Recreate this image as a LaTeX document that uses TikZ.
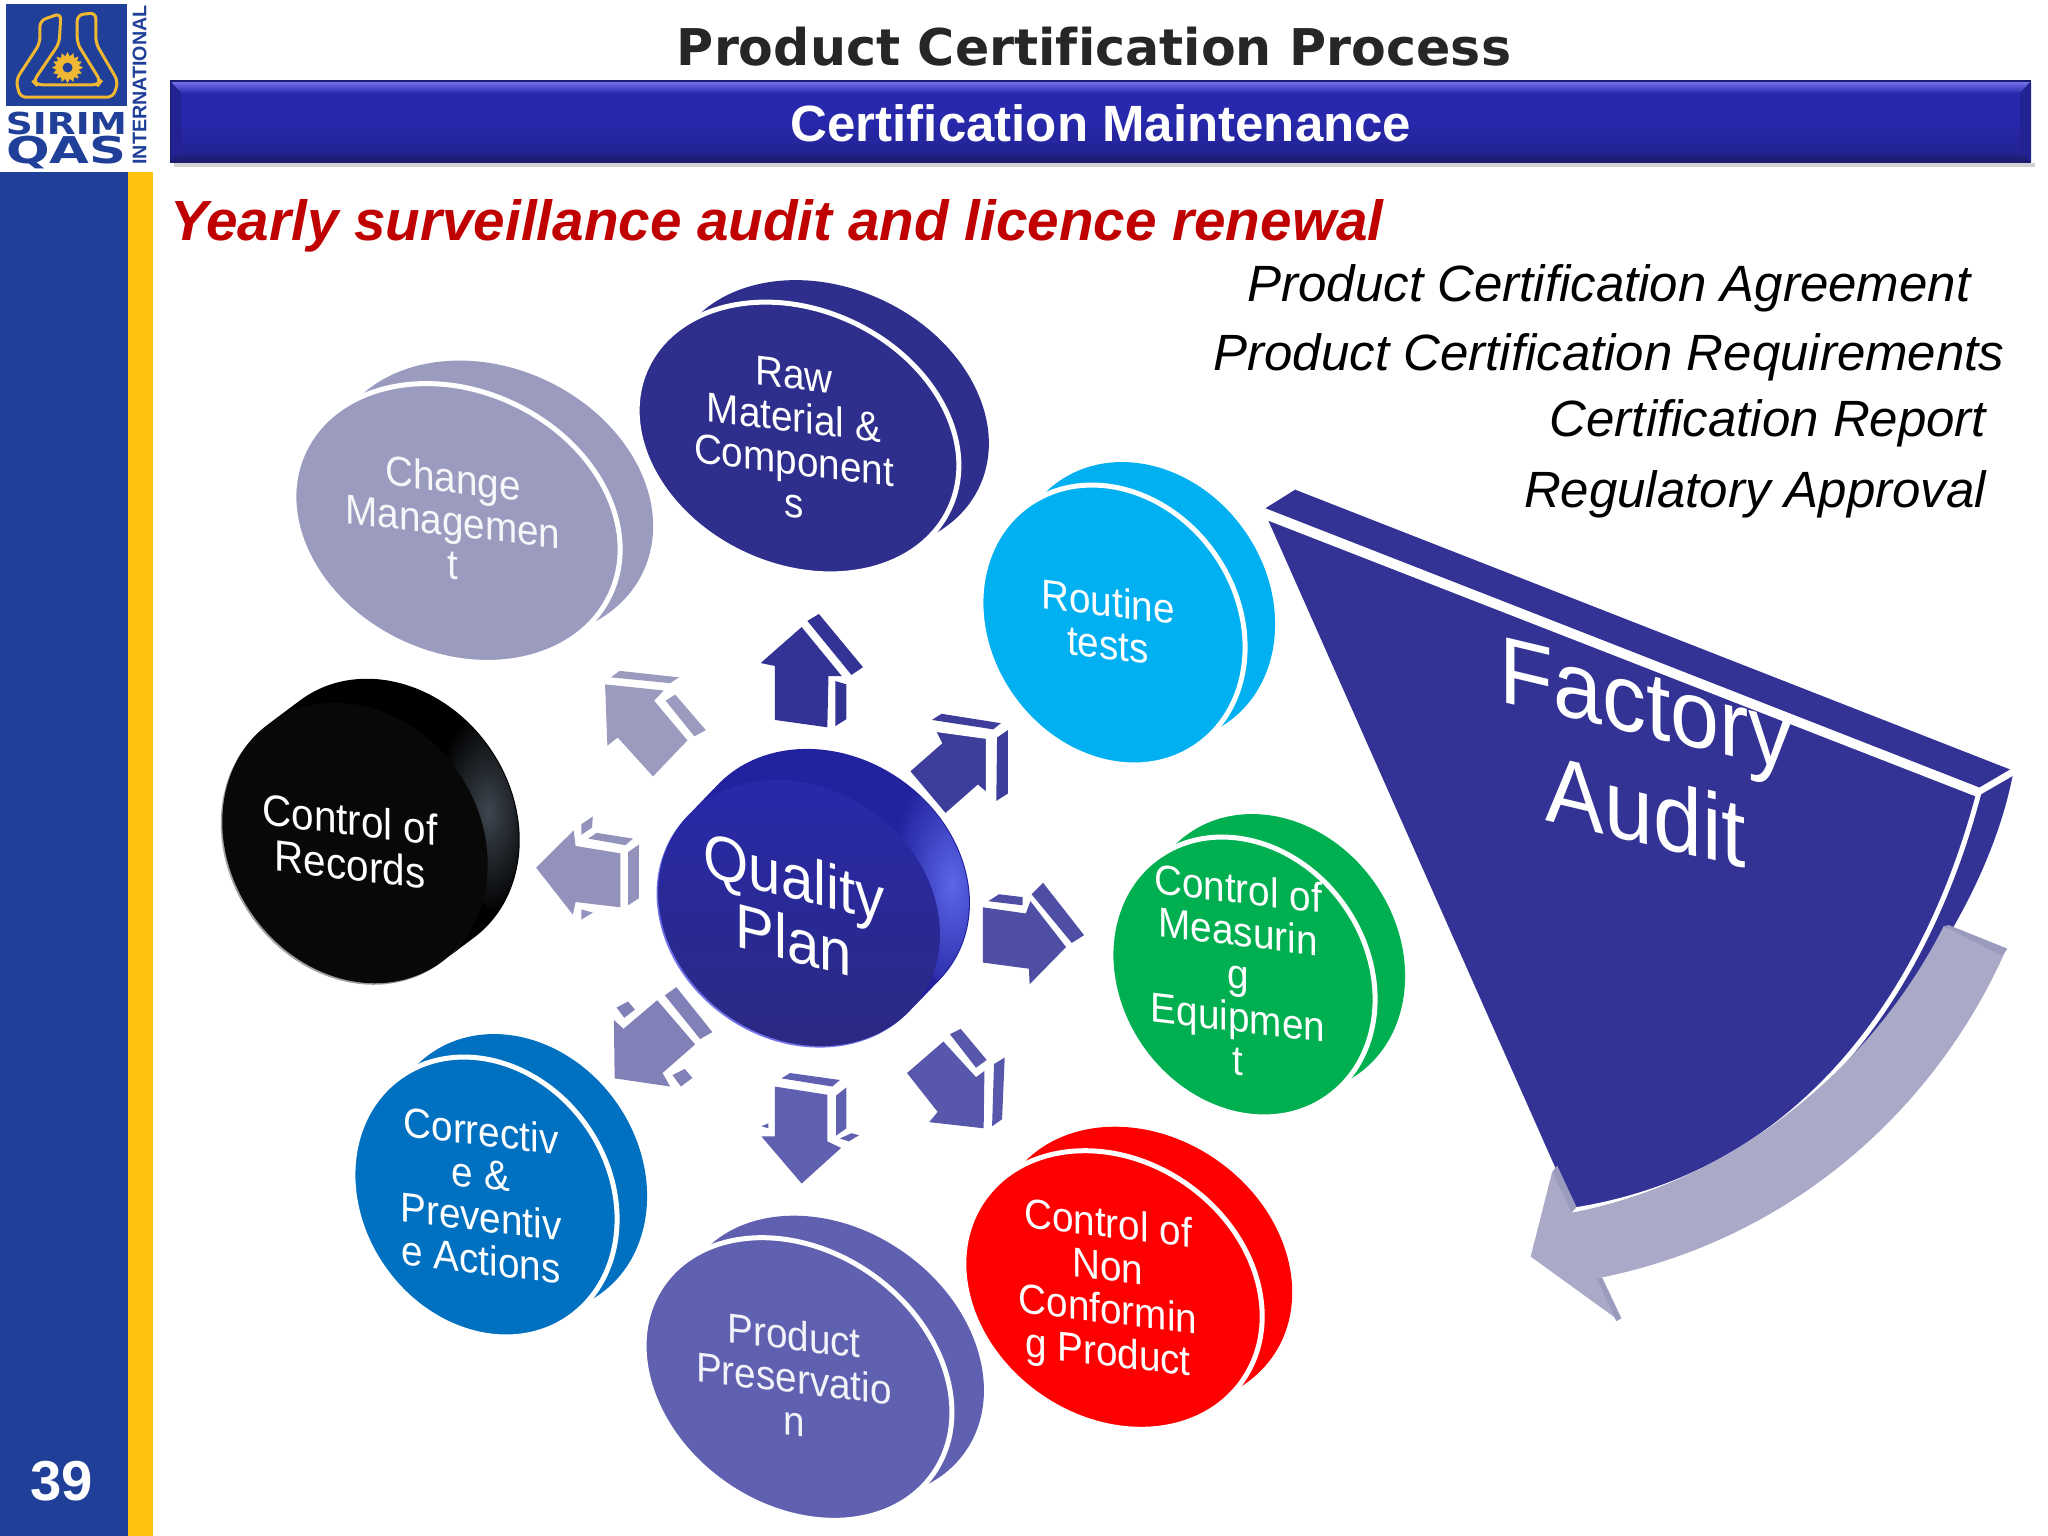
\documentclass[tikz,border=0pt]{standalone}
\usepackage{fontspec}
\setmainfont[Ligatures=NoCommon]{Liberation Sans}
\newfontfamily\titlefont[Ligatures=NoCommon]{DejaVu Sans}
\usetikzlibrary{
  positioning,
  calc,
  shapes.geometric
}
\definecolor{SidebarBlue}{RGB}{31,63,152}
\definecolor{SidebarYellow}{RGB}{255,194,14}
\definecolor{LogoYellow}{RGB}{240,184,50}
\definecolor{BarBlue}{RGB}{40,40,172}
\definecolor{BarEdge}{RGB}{28,28,110}
\definecolor{BarLight}{RGB}{112,112,232}
\definecolor{HeadRed}{RGB}{192,0,0}
\definecolor{ChangeGray}{RGB}{155,155,191}
\definecolor{RawNavy}{RGB}{46,46,140}
\definecolor{RoutineCyan}{RGB}{0,176,240}
\definecolor{MeasureGreen}{RGB}{0,176,80}
\definecolor{ConformRed}{RGB}{255,0,0}
\definecolor{PreserveBlue}{RGB}{96,96,176}
\definecolor{CorrectBlue}{RGB}{0,112,192}
\definecolor{WedgeBlue}{RGB}{51,51,150}
\definecolor{ReturnGray}{RGB}{170,170,200}
\definecolor{ReturnEdge}{RGB}{155,155,190}
\definecolor{QualityBlue}{RGB}{34,34,158}
\definecolor{QualityGlow}{RGB}{92,102,232}
\definecolor{RecordsGlow}{RGB}{62,70,80}
\tikzset{
  discback/.style={ellipse,inner sep=0pt,outer sep=0pt},
  discface/.style={discback,draw=white,line width=0.05cm},
  disctext/.style={align=center,text=white,yslant=-0.12,yscale=1.08,
    font=\fontsize{11}{11.3}\selectfont},
  listtext/.style={font=\fontsize{14.5}{16}\selectfont\itshape,text=black},
  logotext/.style={text=SidebarBlue,inner sep=0pt}
}
\begin{document}
\begin{tikzpicture}[x=0.01cm,y=-0.01cm]
  \useasboundingbox (0,0) rectangle (2048,1536);

  % Sidebar and logo.
  \fill[SidebarBlue] (0,172) rectangle (128,1536);
  \fill[SidebarYellow] (128,172) rectangle (153,1536);
  \node[text=white,font=\fontsize{16}{18}\bfseries\selectfont] (pagenum) at (62,1481) {39};
  \fill[SidebarBlue] (6,4) rectangle (127,106);
  \begin{scope}[x=0.003333cm,y=-0.003333cm]
    \draw[LogoYellow,line width=0.03cm,rounded corners=0.06cm]
      (120,130) -- (120,62) -- (183,40) -- (178,130) -- (100,245) -- (110,255) -- (295,255) -- (303,245)
      -- (232,130) -- (232,45) -- (288,38) -- (288,130) -- (355,245) -- (340,292) -- (60,292) -- (48,240) -- cycle;
    \node[star,star points=16,star point ratio=1.35,minimum size=0.31cm,inner sep=0pt,fill=LogoYellow] (gear) at (203,203) {};
    \node[circle,minimum size=0.10cm,inner sep=0pt,fill=SidebarBlue] (hub) at (203,203) {};
  \end{scope}
  \node[logotext,xscale=1.24,font=\fontsize{8.6}{10}\titlefont\bfseries\selectfont] (sirim) at (66.5,123) {SIRIM};
  \node[logotext,xscale=1.39,font=\fontsize{10.5}{12}\titlefont\bfseries\selectfont] (qas) at (66.5,152) {QAS};
  \node[logotext,rotate=90,font=\fontsize{5.6}{7}\bfseries\selectfont] (intl) at (139.5,85) {INTERNATIONAL};

  % Header.
  \node[font=\fontsize{14.4}{17}\titlefont\bfseries\selectfont,text=black!85] (title) at (1094,47) {Product Certification Process};
  \fill[gray!35] (174,163) rectangle (2035,167);
  \fill[BarEdge] (170,80) rectangle (2031,163);
  \fill[BarBlue!85!black] (2031,82) -- (2031,162) -- (2020,154) -- (2020,92) -- cycle;
  \shade[top color=BarLight,bottom color=BarBlue] (171,82) -- (2030,82) -- (2020,93) -- (181,93) -- cycle;
  \fill[BarBlue] (181,93) rectangle (2020,120);
  \shade[top color=BarBlue,bottom color=BarBlue!88!black] (181,120) rectangle (2020,150);
  \shade[top color=BarBlue!88!black,bottom color=BarEdge] (181,150) -- (2020,150) -- (2030,161) -- (171,161) -- cycle;
  \fill[BarBlue!85!black] (171,82) -- (181,93) -- (181,150) -- (171,161) -- cycle;
  \node[font=\fontsize{14.5}{17}\bfseries\selectfont,text=white] (subtitle) at (1101,123) {Certification Maintenance};
  \node[anchor=west,inner sep=0pt,font=\fontsize{16.1}{19}\bfseries\itshape\selectfont,text=HeadRed] (heading) at (170,226) {Yearly surveillance audit and licence renewal};

  \node[listtext] (agreement) at (1609,288) {Product Certification Agreement};
  \node[listtext] (requirements) at (1609,357) {Product Certification Requirements};
  \node[listtext] (report) at (1768,423) {Certification Report};
  \node[listtext] (approval) at (1755,494) {Regulatory Approval};

  % Outer discs: back slab, face, then the label.
  \node[discback,fill=ChangeGray,minimum width=3.38cm,minimum height=2.64cm,rotate=-25] (changeback) at (490,500) {};
  \node[discface,fill=ChangeGray,minimum width=3.38cm,minimum height=2.64cm,rotate=-25] (changeface) at (457,523) {};
  \node[disctext,text=white!92!ChangeGray] (changetext) at (453,521) {Change\\Managemen\\t};

  \node[discback,fill=RawNavy,minimum width=3.34cm,minimum height=2.56cm,rotate=-25] (rawback) at (828,416) {};
  \node[discface,fill=RawNavy,minimum width=3.34cm,minimum height=2.56cm,rotate=-25] (rawface) at (798,438) {};
  \node[disctext] (rawtext) at (794,439) {Raw\\Material \&\\Component\\s};

  \node[discback,fill=RoutineCyan,minimum width=2.94cm,minimum height=2.48cm,rotate=-55] (routineback) at (1143,602) {};
  \node[discface,fill=RoutineCyan,minimum width=2.94cm,minimum height=2.48cm,rotate=-55] (routineface) at (1113,625) {};
  \node[disctext] (routinetext) at (1108,623) {Routine\\tests};

  \node[discback,fill=MeasureGreen,minimum width=2.94cm,minimum height=2.48cm,rotate=-55] (measureback) at (1273,954) {};
  \node[discface,fill=MeasureGreen,minimum width=2.94cm,minimum height=2.48cm,rotate=-55] (measureface) at (1243,977) {};
  \node[disctext] (measuretext) at (1238,974) {Control of\\Measurin\\g\\Equipmen\\t};

  \node[discback,fill=ConformRed,minimum width=3.16cm,minimum height=2.58cm,rotate=-35] (conformback) at (1143,1266) {};
  \node[discface,fill=ConformRed,minimum width=3.16cm,minimum height=2.58cm,rotate=-35] (conformface) at (1113,1290) {};
  \node[disctext] (conformtext) at (1108,1291) {Control of\\Non\\Conformin\\g Product};

  \node[discback,fill=PreserveBlue,minimum width=3.30cm,minimum height=2.56cm,rotate=-35] (preserveback) at (830,1357) {};
  \node[discface,fill=PreserveBlue,minimum width=3.30cm,minimum height=2.56cm,rotate=-35] (preserveface) at (798,1379) {};
  \node[disctext,text=white!92!PreserveBlue] (preservetext) at (794,1378) {Product\\Preservatio\\n};

  \node[discback,fill=CorrectBlue,minimum width=2.94cm,minimum height=2.48cm,rotate=-55] (correctback) at (515,1174) {};
  \node[discface,fill=CorrectBlue,minimum width=2.94cm,minimum height=2.48cm,rotate=-55] (correctface) at (485,1197) {};
  \node[disctext] (correcttext) at (481,1195) {Correctiv\\e \&\\Preventiv\\e Actions};

  % Black disc: slab built up from the back towards the face.
  \coordinate (recordsfar) at (387,819);
  \coordinate (recordsnear) at (355,843);
  \foreach \t in {0,0.25,0.5,0.75}{
    \node[discback,fill=black,minimum width=2.94cm,minimum height=2.50cm,rotate=-55] at ($(recordsnear)!1-\t!(recordsfar)$) {};
  }
  \begin{scope}
    \clip[rotate around={-55:(recordsfar)}] (recordsfar) ellipse [x radius=146,y radius=124];
    \node[discback,inner color=RecordsGlow,outer color=black,minimum width=0.9cm,minimum height=2.0cm,rotate=10] (recordsglow) at (488,812) {};
  \end{scope}
  \node[discback,fill=gray!75,minimum width=2.94cm,minimum height=2.50cm,rotate=-55] (recordsrim) at ($(recordsnear)+(-1.5,1.5)$) {};
  \node[discback,fill=black!97!white,minimum width=2.94cm,minimum height=2.50cm,rotate=-55] (recordsface) at (recordsnear) {};
  \node[disctext,font=\fontsize{11.5}{11.8}\selectfont] (recordstext) at (350,842) {Control of\\Records};

  % Centre disc.
  \coordinate (qualityfar) at (829,882);
  \coordinate (qualitynear) at (799,913);
  \foreach \t in {0,0.25,0.5,0.75}{
    \node[discback,fill=QualityBlue,minimum width=2.96cm,minimum height=2.50cm,rotate=-35] at ($(qualitynear)!1-\t!(qualityfar)$) {};
  }
  \begin{scope}
    \clip[rotate around={-35:(qualityfar)}] (qualityfar) ellipse [x radius=147,y radius=124];
    \node[discback,inner color=QualityGlow,outer color=QualityBlue,minimum width=1.0cm,minimum height=2.4cm,rotate=10] (qualityglow) at (952,884) {};
  \end{scope}
  \node[discback,fill=BarLight,minimum width=2.96cm,minimum height=2.50cm,rotate=-35] (qualityrim) at ($(qualitynear)+(-1.5,1.5)$) {};
  \node[discback,top color=BarBlue,bottom color=RawNavy!92!black,minimum width=2.96cm,minimum height=2.50cm,rotate=-35] (qualityface) at (qualitynear) {};
  \node[disctext,yslant=-0.13,font=\fontsize{16.5}{16.6}\selectfont] (qualitytext) at (794,908) {Quality\\Plan};

  % Block arrows round the centre disc, traced in crop units.
  \begin{scope}[shift={(520,580)},x=0.003827cm,y=-0.004082cm]
    % up
    \fill[WedgeBlue] (628,203) -- (735,115) -- (840,235) -- (805,235) -- (802,360) -- (665,342) -- (665,210) -- cycle;
    \fill[WedgeBlue] (750,100) -- (780,83) -- (895,213) -- (865,232) -- cycle;
    \fill[WedgeBlue] (823,247) -- (852,255) -- (852,340) -- (823,357) -- cycle;
    % upper right
    \draw[white,fill=WedgeBlue!95!white,line width=0.03cm] (1080,367) -- (1220,385) -- (1220,525) -- (1195,505) -- (1110,575) -- (1013,467) -- (1097,398) -- cycle;
    \fill[WedgeBlue!95!white] (1075,342) -- (1100,327) -- (1255,350) -- (1235,365) -- cycle;
    \fill[WedgeBlue!95!white] (1245,385) -- (1273,367) -- (1273,522) -- (1243,540) -- cycle;
    % right
    \fill[PreserveBlue!60!WedgeBlue] (1208,800) -- (1320,815) -- (1332,785) -- (1425,897) -- (1330,988) -- (1328,950) -- (1208,935) -- cycle;
    \fill[PreserveBlue!60!WedgeBlue] (1222,785) -- (1250,768) -- (1312,775) -- (1312,795) -- cycle;
    \fill[PreserveBlue!60!WedgeBlue] (1335,768) -- (1365,740) -- (1472,868) -- (1440,887) -- cycle;
    % lower right
    \fill[PreserveBlue!80!WedgeBlue] (1010,1205) -- (1105,1128) -- (1190,1215) -- (1212,1200) -- (1210,1340) -- (1068,1325) -- (1090,1300) -- cycle;
    \fill[PreserveBlue!80!WedgeBlue] (1122,1110) -- (1150,1097) -- (1218,1173) -- (1190,1192) -- cycle;
    \fill[PreserveBlue!80!WedgeBlue] (1237,1183) -- (1265,1167) -- (1258,1318) -- (1232,1335) -- cycle;
    % down
    \fill[PreserveBlue] (665,1238) -- (802,1258) -- (802,1372) -- (838,1388) -- (735,1475) -- (630,1360) -- (665,1360) -- cycle;
    \fill[PreserveBlue] (682,1218) -- (705,1205) -- (835,1222) -- (815,1238) -- cycle;
    \fill[PreserveBlue] (825,1260) -- (852,1240) -- (852,1340) -- (825,1358) -- cycle;
    \fill[PreserveBlue] (835,1365) -- (865,1352) -- (885,1357) -- (858,1372) -- cycle;
    \fill[PreserveBlue] (630,1335) -- (648,1328) -- (648,1340) -- cycle;
    % lower left
    \fill[ChangeGray!55!PreserveBlue] (245,1075) -- (270,1097) -- (358,1027) -- (457,1135) -- (372,1205) -- (392,1238) -- (247,1218) -- cycle;
    \fill[ChangeGray!55!PreserveBlue] (378,1015) -- (408,995) -- (502,1105) -- (470,1122) -- cycle;
    \fill[ChangeGray!55!PreserveBlue] (252,1045) -- (282,1030) -- (300,1050) -- (272,1070) -- cycle;
    \fill[ChangeGray!55!PreserveBlue] (398,1210) -- (430,1195) -- (450,1217) -- (420,1238) -- cycle;
    % left
    \fill[ChangeGray!85!PreserveBlue] (42,703) -- (140,612) -- (145,650) -- (262,668) -- (262,800) -- (145,787) -- (138,818) -- cycle;
    \fill[ChangeGray!85!PreserveBlue] (178,632) -- (200,618) -- (295,632) -- (275,648) -- cycle;
    \fill[ChangeGray!85!PreserveBlue] (282,665) -- (310,647) -- (310,778) -- (282,795) -- cycle;
    \fill[ChangeGray!85!PreserveBlue] (160,597) -- (190,578) -- (188,605) -- (160,623) -- cycle;
    \fill[ChangeGray!85!PreserveBlue] (160,805) -- (190,813) -- (160,830) -- cycle;
    % upper left
    \fill[ChangeGray] (222,255) -- (375,270) -- (350,295) -- (437,392) -- (347,480) -- (255,385) -- (228,405) -- cycle;
    \fill[ChangeGray] (237,238) -- (260,222) -- (415,238) -- (392,252) -- cycle;
    \fill[ChangeGray] (380,295) -- (405,280) -- (485,367) -- (455,382) -- cycle;
  \end{scope}

  % Wedge and its return arrow, traced in crop units.
  \begin{scope}[shift={(1240,470)},x=0.005102cm,y=-0.005612cm]
    \fill[WedgeBlue] (50,68) -- (108,35) -- (1510,533) -- (1450,565) -- cycle;
    \fill[WedgeBlue] (1452,578) -- (1515,545) .. controls (1470,750) and (1300,1000) .. (1075,1145) -- cycle;
    \draw[white,fill=WedgeBlue,line width=0.05cm] (46,82) -- (1448,578) .. controls (1360,880) and (1140,1250) .. (650,1318) -- cycle;
    \fill[ReturnGray] (650,1322) .. controls (950,1270) and (1230,1080) .. (1380,812)
      -- (1498,862) .. controls (1360,1140) and (1080,1370) .. (705,1438)
      -- (742,1513) -- (570,1400) -- (612,1250) -- cycle;
    \fill[ReturnEdge] (1380,812) -- (1390,810) -- (1505,852) -- (1495,865) -- cycle;
    \fill[ReturnEdge] (700,1440) -- (710,1437) -- (748,1510) -- (738,1515) -- cycle;
    \fill[ReturnEdge] (612,1250) -- (622,1238) -- (660,1312) -- (650,1322) -- cycle;
  \end{scope}
  \node[disctext,yslant=-0.11,font=\fontsize{25}{28.5}\selectfont] (factorytext) at (1646,758) {Factory\\Audit};
\end{tikzpicture}
\end{document}
